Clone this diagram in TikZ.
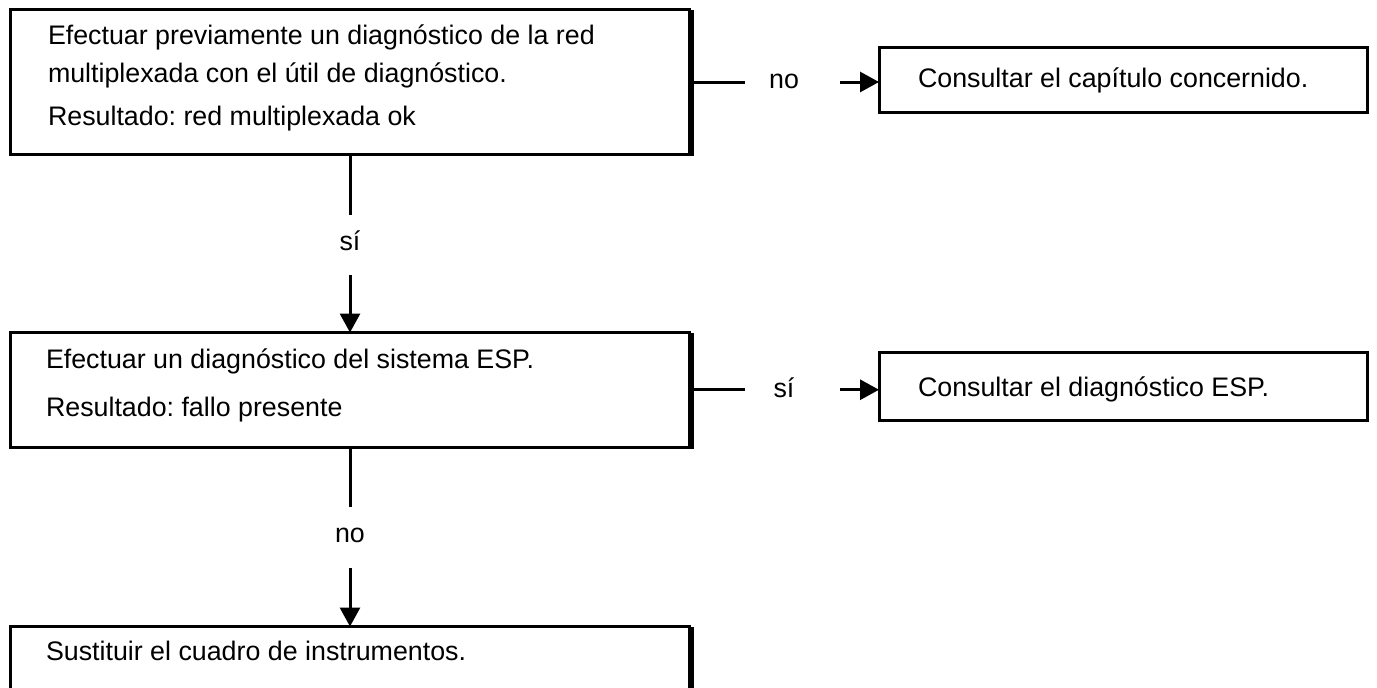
\documentclass[tikz,border=0pt]{standalone}
\usepackage{fontspec}
\setmainfont{Liberation Sans}
\usetikzlibrary{arrows.meta}
\frenchspacing
\begin{document}
\begin{tikzpicture}[x=1pt,y=-1pt,
  box/.style={draw=black,line width=3pt,outer sep=0pt,inner sep=0pt,fill=white},
  shade/.style={line width=6pt,line cap=butt},
  conn/.style={line width=3pt,line cap=butt},
  arr/.style={line width=3pt,line cap=butt,-{Triangle[length=19pt,width=20pt]}},
  txt/.style={inner sep=0pt,outer sep=0pt,anchor=base west,font=\fontsize{26.8}{32}\selectfont},
  lab/.style={inner sep=0pt,outer sep=0pt,anchor=base,font=\fontsize{26.8}{32}\selectfont}]
\useasboundingbox (0,0) rectangle (1377,688);
\clip (0,0) rectangle (1377,688);
\fill[white] (0,0) rectangle (1377,688);

% boxes
\node[box,anchor=north west,minimum width=679pt,minimum height=145pt] (b1) at (10.5,9.5) {};
\node[box,anchor=north west,minimum width=488.5pt,minimum height=65pt] (b2) at (879,47.5) {};
\node[box,anchor=north west,minimum width=679pt,minimum height=114.5pt] (b3) at (10.5,332.5) {};
\node[box,anchor=north west,minimum width=488.5pt,minimum height=68pt] (b4) at (879,352.5) {};
\node[box,anchor=north west,minimum width=679pt,minimum height=120pt] (b5) at (10.5,626.5) {};

% thick right edges
\draw[shade] ([xshift=1.5pt,yshift=-0.5pt]b1.north east) -- ([xshift=1.5pt,yshift=-1.5pt]b1.south east);
\draw[shade] ([xshift=1.5pt,yshift=-0.5pt]b3.north east) -- ([xshift=1.5pt,yshift=-1.5pt]b3.south east);
\draw[shade] ([xshift=1.5pt,yshift=-0.5pt]b5.north east) -- ([xshift=1.5pt,yshift=-1.5pt]b5.south east);

% texts
\node[txt] (t11) at (48,45) {Efectuar previamente un diagnóstico de la red};
\node[txt] (t12) at (48,82) {multiplexada con el útil de diagnóstico.};
\node[txt] (t13) at (48,125) {Resultado: red multiplexada ok};
\node[txt] (t2) at (918,87) {Consultar el capítulo concernido.};
\node[txt] (t31) at (46,368) {Efectuar un diagnóstico del sistema ESP.};
\node[txt] (t32) at (46,416) {Resultado: fallo presente};
\node[txt] (t4) at (918,396) {Consultar el diagnóstico ESP.};
\node[txt] (t5) at (46,660) {Sustituir el cuadro de instrumentos.};

% labels
\node[lab] (l1) at (784,88) {no};
\node[lab] (l2) at (784,397) {sí};
\node[lab] (l3) at (350,250) {sí};
\node[lab] (l4) at (350,542) {no};

% connector ends
\coordinate (h1a) at (745,82);
\coordinate (h1b) at (840,82);
\coordinate (h2a) at (745,389.75);
\coordinate (h2b) at (840,389.75);
\coordinate (v1a) at (350,215);
\coordinate (v1b) at (350,275);
\coordinate (v2a) at (350,507);
\coordinate (v2b) at (350,568);

% connectors
\draw[conn] (b1.east) -- (h1a);
\draw[arr] (h1b) -- (h1b -| b2.west);
\draw[conn] (b3.east) -- (h2a);
\draw[arr] (h2b) -- (h2b -| b4.west);
\draw[conn] (b1.south) -- (v1a);
\draw[arr] (v1b) -- (b3.north);
\draw[conn] (b3.south) -- (v2a);
\draw[arr] (v2b) -- (b5.north);
\end{tikzpicture}
\end{document}
